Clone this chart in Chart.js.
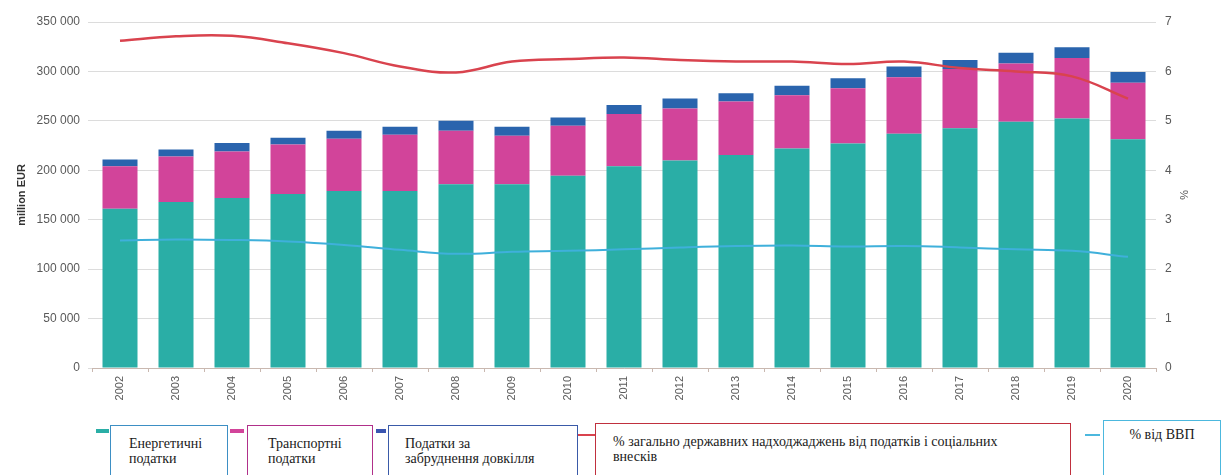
<!DOCTYPE html>
<html>
<head>
<meta charset="utf-8">
<script src="https://cdn.jsdelivr.net/npm/chart.js@4.4.1/dist/chart.umd.min.js"></script>
<style>
  body { margin: 0; background: #fff; width: 1224px; height: 475px; overflow: hidden; position: relative; }
  #wrap { position: absolute; left: 0; top: 0; width: 1224px; height: 415px; }
  .mark { position: absolute; }
  .box {
    position: absolute; box-sizing: border-box; height: 56px;
    font-family: "Liberation Serif", "DejaVu Serif", serif; font-size: 14px; line-height: 15px;
    color: #1a1a1a; padding-top: 10px; background: #fff;
  }
</style>
</head>
<body>
<div id="wrap"><canvas id="myChart" width="1224" height="415"></canvas></div>

<div class="mark" style="left:96px;top:429px;width:13px;height:4px;background:#2aaea6"></div>
<div class="box" style="left:110px;top:425px;width:118px;border:1.5px solid #3d8fc4;padding-left:18px">Енергетичні<br>податки</div>

<div class="mark" style="left:230px;top:429px;width:14px;height:4px;background:#d2449a"></div>
<div class="box" style="left:247px;top:425px;width:126px;border:1.5px solid #b0308a;padding-left:20px">Транспортні<br>податки</div>

<div class="mark" style="left:376px;top:429px;width:10px;height:4px;background:#3a55b0"></div>
<div class="box" style="left:388px;top:425px;width:190px;border:1.5px solid #3a5aa8;padding-left:16px">Податки за<br>забруднення довкілля</div>

<div class="mark" style="left:578px;top:434px;width:17px;height:2px;background:#d9434e"></div>
<div class="box" style="left:595px;top:423px;width:476px;border:1.5px solid #c0303e;padding-left:17px">% загально державних надходжаджень від податків і соціальних<br>внесків</div>

<div class="mark" style="left:1085px;top:434px;width:15px;height:2px;background:#4cb8de"></div>
<div class="box" style="left:1103px;top:420px;width:118px;border:1.5px solid #4cb8de;padding-top:6px;text-align:center">% від ВВП</div>

<script>
const years = ['2002', '2003', '2004', '2005', '2006', '2007', '2008', '2009', '2010', '2011',
               '2012', '2013', '2014', '2015', '2016', '2017', '2018', '2019', '2020'];

// million EUR
const energyTaxes    = [161, 168, 172, 176, 179, 179, 186, 186, 194.5, 204, 210, 215.5, 222, 227, 237, 242.5, 249, 252.5, 231.5].map(v => v * 1000);
const transportTaxes = [43, 46, 47, 50, 53, 57, 54, 49, 50.5, 53, 52.5, 54, 54, 56, 57, 60, 59, 61, 57].map(v => v * 1000);
const pollutionTaxes = [7, 7, 8.5, 7, 8, 8, 10, 9, 8.5, 9, 10, 8.5, 9.5, 10, 11, 9, 11, 11, 11].map(v => v * 1000);

// %
const shareOfRevenue = [6.62, 6.71, 6.72, 6.57, 6.37, 6.10, 5.98, 6.20, 6.25, 6.28, 6.23, 6.20, 6.20, 6.15, 6.20, 6.07, 6.00, 5.90, 5.45];
const shareOfGdp     = [2.58, 2.60, 2.59, 2.56, 2.49, 2.39, 2.31, 2.35, 2.37, 2.40, 2.44, 2.47, 2.48, 2.46, 2.47, 2.44, 2.40, 2.37, 2.25];

const leftTicks = [0, 50000, 100000, 150000, 200000, 250000, 300000, 350000];

function fmtThousands(v) {
    return String(v).replace(/\B(?=(\d{3})+(?!\d))/g, ' ');
}

const tickFont = { family: 'Liberation Sans, Arial, sans-serif', size: 12 };

const ctx = document.getElementById('myChart').getContext('2d');
const chart = new Chart(ctx, {
    type: 'bar',
    data: {
        labels: years,
        datasets: [
            {
                type: 'line', label: '% загально державних надходжаджень від податків і соціальних внесків',
                data: shareOfRevenue, yAxisID: 'y1', borderColor: '#d9434e', borderWidth: 2.5,
                pointRadius: 0, tension: 0.4, fill: false, order: 0
            },
            {
                type: 'line', label: '% від ВВП',
                data: shareOfGdp, yAxisID: 'y1', borderColor: '#3fb0db', borderWidth: 2,
                pointRadius: 0, tension: 0.4, fill: false, order: 0
            },
            {
                label: 'Енергетичні податки', data: energyTaxes, backgroundColor: '#2aaea6',
                stack: 's', order: 1, barPercentage: 0.625, categoryPercentage: 1
            },
            {
                label: 'Транспортні податки', data: transportTaxes, backgroundColor: '#d2449a',
                stack: 's', order: 1, barPercentage: 0.625, categoryPercentage: 1
            },
            {
                label: 'Податки за забруднення довкілля', data: pollutionTaxes, backgroundColor: '#2a64ad',
                stack: 's', order: 1, barPercentage: 0.625, categoryPercentage: 1
            }
        ]
    },
    options: {
        responsive: false,
        animation: false,
        layout: { padding: { top: 22, left: 0, right: 0, bottom: 0 } },
        plugins: {
            legend: { display: false },
            tooltip: { enabled: false }
        },
        scales: {
            x: {
                stacked: true,
                grid: { drawOnChartArea: false, tickLength: 4, color: '#c9b8b0' },
                border: { color: '#c9b8b0' },
                ticks: { minRotation: 90, maxRotation: 90, font: { ...tickFont, size: 11 }, color: '#595959', padding: 4 },
                afterFit: scale => { scale.height = 47; }
            },
            y: {
                stacked: true,
                min: 0, max: 350000,
                afterBuildTicks: scale => { scale.ticks = leftTicks.map(v => ({ value: v })); },
                grid: { color: '#dcdcdc', tickLength: 4 },
                border: { display: false },
                ticks: { font: tickFont, color: '#595959', padding: 8, callback: v => fmtThousands(v) },
                title: {
                    display: true, text: 'million EUR', color: '#333',
                    font: { family: 'Liberation Sans, Arial, sans-serif', size: 11, weight: 'bold' },
                    padding: { top: 15, bottom: 0 }
                },
                afterFit: scale => { scale.width = 92; }
            },
            y1: {
                position: 'right',
                min: 0, max: 7,
                ticks: { stepSize: 1, font: tickFont, color: '#595959', padding: 9 },
                grid: { drawOnChartArea: false, drawTicks: false },
                border: { display: false },
                title: {
                    display: true, text: '%', color: '#555',
                    font: { family: 'Liberation Sans, Arial, sans-serif', size: 11 },
                    padding: { top: 34, bottom: 0 }
                },
                afterFit: scale => { scale.width = 68; }
            }
        }
    }
});
</script>
</body>
</html>
